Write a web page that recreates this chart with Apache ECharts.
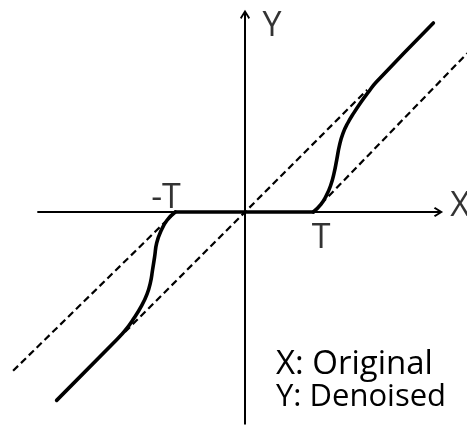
<!DOCTYPE html>
<html>
<head>
<meta charset="utf-8">
<style>
  html, body { margin: 0; padding: 0; background: #fff; }
  #chart { width: 467px; height: 425px; }
</style>
<script src="https://cdn.jsdelivr.net/npm/echarts@6.0.0/dist/echarts.min.js"></script>
</head>
<body>
<div id="chart"></div>
<script>
// threshold T = 1, everything in units of T
const T = 1;

// solid transfer curve
const leftCurve = [[-2.73, -2.73], [-1.86, -1.85], [-1.74, -1.72], [-1.61, -1.54], [-1.5, -1.36], [-1.42, -1.19],
    [-1.37, -1.02], [-1.34, -0.84], [-1.31, -0.65], [-1.28, -0.45], [-1.22, -0.28], [-1.13, -0.12], [-1.01, 0]];
const deadZone = [[-1.01, 0], [0.99, 0]];
const rightCurve = [[0.99, 0], [1.1, 0.11], [1.18, 0.24], [1.24, 0.38], [1.29, 0.56], [1.33, 0.76], [1.37, 0.97],
    [1.42, 1.14], [1.49, 1.29], [1.58, 1.44], [1.68, 1.59], [1.79, 1.74], [1.9, 1.88], [2.73, 2.74]];

// dashed reference lines
const identityDash = [[-1.74, -1.74], [1.77, 1.77]];
const shiftDownDash = [[0.99, 0], [3.22, 2.3]];
const shiftUpDash = [[-1.01, 0], [-3.38, -2.32]];

// axis extents (start, arrow end)
const xAxisEnds = [-3.01, 2.74];
const yAxisEnds = [-3.08, 2.8];

// labels
const tickNames = ["-T", "T"];
const tickValues = [-T, T];
const axisNames = ["X", "Y"];
const noteLines = ["X: Original", "Y: Denoised"];

const FONT = "Open Sans";
const INK = "#000";

const arrowPath = "path://M5,0 L10,8 L8.6,9.2 L5,3.4 L1.4,9.2 L0,8 Z M4,3.6 L6,3.6 L6,18 L4,18 Z";

const chart = echarts.init(document.getElementById("chart"), null, { renderer: "canvas" });

const dashStyle = { color: INK, width: 2.2, type: [7, 4] };
const solidStyle = { color: INK, width: 3.6, cap: "round", join: "round" };

function lineSeries(data, style, smooth) {
    return {
        type: "line",
        data: data,
        showSymbol: false,
        symbol: "none",
        smooth: smooth,
        clip: false,
        silent: true,
        lineStyle: style,
        z: 3,
    };
}

const option = {
    animation: false,
    backgroundColor: "#fff",
    grid: { left: 0, right: 0, top: 0, bottom: 0 },
    xAxis: { type: "value", min: -245 / 69, max: 222 / 69, show: false },
    yAxis: { type: "value", min: -213 / 69, max: 212 / 69, show: false },
    series: [
        {
            type: "line",
            data: [],
            silent: true,
            z: 2,
            markLine: {
                silent: true,
                animation: false,
                symbol: ["none", arrowPath],
                symbolSize: [10, 18],
                label: { show: false },
                lineStyle: { color: INK, width: 2, type: "solid" },
                data: [
                    [{ coord: [xAxisEnds[0], 0] }, { coord: [xAxisEnds[1], 0] }],
                    [{ coord: [0, yAxisEnds[0]] }, { coord: [0, yAxisEnds[1]] }],
                ],
            },
        },
        lineSeries(identityDash, dashStyle, false),
        lineSeries(shiftDownDash, dashStyle, false),
        lineSeries(shiftUpDash, dashStyle, false),
        lineSeries(leftCurve, solidStyle, 0.5),
        lineSeries(deadZone, solidStyle, false),
        lineSeries(rightCurve, solidStyle, 0.5),
        {
            type: "scatter",
            silent: true,
            symbolSize: 0,
            z: 5,
            label: {
                show: true,
                position: "inside",
                formatter: (p) => p.name,
                fontFamily: FONT,
                fontSize: 34,
                color: INK,
            },
            data: [
                { name: tickNames[0], value: [tickValues[0], 0], label: { offset: [-10, -14] } },
                { name: tickNames[1], value: [tickValues[1], 0], label: { offset: [7, 26] } },
                { name: axisNames[0], value: [xAxisEnds[1], 0], label: { offset: [26, -6] } },
                { name: axisNames[1], value: [0, yAxisEnds[1]], label: { offset: [27, 8] } },
            ],
        },
    ],
    graphic: [
        {
            type: "text",
            left: 276,
            top: 348,
            style: { text: noteLines[0], fontFamily: FONT, fontSize: 33, lineHeight: 33, fill: INK },
        },
        {
            type: "text",
            left: 276,
            top: 381,
            style: { text: noteLines[1], fontFamily: FONT, fontSize: 31, lineHeight: 32, fill: INK },
        },
    ],
};

chart.setOption(option);
</script>
</body>
</html>
